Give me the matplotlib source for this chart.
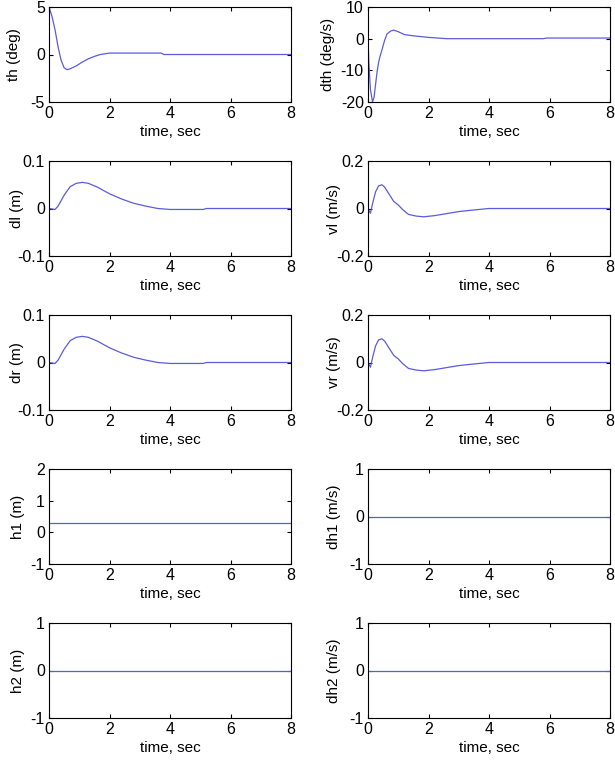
import matplotlib
matplotlib.use("Agg")
import matplotlib.pyplot as plt

plt.rcParams['font.family'] = ['Liberation Sans', 'DejaVu Sans']

# values
t_th = [0, 0.1, 0.2, 0.3, 0.4, 0.5, 0.6, 0.7, 0.9, 1.1, 1.3, 1.5, 1.7, 1.9, 2.0, 3.7, 3.8, 8]
th = [5, 4.0, 2.6, 0.8, -0.6, -1.4, -1.6, -1.5, -1.2, -0.8, -0.45, -0.2, 0.0, 0.1, 0.15, 0.15, 0.0, 0.0]

t_dth = [0, 0.03, 0.08, 0.15, 0.2, 0.25, 0.3, 0.35, 0.4, 0.46, 0.55, 0.63, 0.75, 0.85, 1.0, 1.2, 1.5, 2.0, 2.6, 5.8, 5.9, 8]
dth = [0, -8, -16, -20, -18.5, -14.5, -10.5, -7.5, -5.5, -3.6, -0.5, 1.5, 2.4, 2.7, 2.2, 1.3, 0.9, 0.4, 0.0, 0.0, 0.2, 0.2]

t_d = [0, 0.1, 0.2, 0.3, 0.5, 0.7, 0.9, 1.1, 1.3, 1.6, 2.0, 2.4, 2.8, 3.2, 3.6, 4.0, 5.1, 5.2, 8]
d = [0, -0.001, -0.002, 0.005, 0.028, 0.046, 0.053, 0.055, 0.053, 0.045, 0.031, 0.02, 0.011, 0.005, 0.0, -0.002, -0.002, 0.0, 0.0]

t_v = [0, 0.08, 0.15, 0.25, 0.35, 0.46, 0.55, 0.7, 0.85, 1.0, 1.15, 1.34, 1.6, 1.84, 2.2, 2.67, 3.0, 3.44, 4.0, 8]
v = [0, -0.02, 0.02, 0.07, 0.095, 0.1, 0.09, 0.06, 0.03, 0.015, -0.005, -0.025, -0.032, -0.035, -0.03, -0.02, -0.013, -0.007, 0.0, 0.0]

t_flat = [0, 8]
h1 = [0.3, 0.3]
dh1 = [0, 0]
h2 = [0, 0]
dh2 = [0, 0]

panels = [
    (t_th, th, "th (deg)", (-5, 5), [-5, 0, 5]),
    (t_dth, dth, "dth (deg/s)", (-20, 10), [-20, -10, 0, 10]),
    (t_d, d, "dl (m)", (-0.1, 0.1), [-0.1, 0, 0.1]),
    (t_v, v, "vl (m/s)", (-0.2, 0.2), [-0.2, 0, 0.2]),
    (t_d, d, "dr (m)", (-0.1, 0.1), [-0.1, 0, 0.1]),
    (t_v, v, "vr (m/s)", (-0.2, 0.2), [-0.2, 0, 0.2]),
    (t_flat, h1, "h1 (m)", (-1, 2), [-1, 0, 1, 2]),
    (t_flat, dh1, "dh1 (m/s)", (-1, 1), [-1, 0, 1]),
    (t_flat, h2, "h2 (m)", (-1, 1), [-1, 0, 1]),
    (t_flat, dh2, "dh2 (m/s)", (-1, 1), [-1, 0, 1]),
]

W, H = 615, 773
fig = plt.figure(figsize=(W / 100, H / 100), dpi=100)

col_left = [49, 368]
col_w = 242
row_top = [7, 161, 315, 469, 623]
row_h = 95
# y label centre, pixels from figure left
ylab_x = [[14, 328], [17, 334], [17, 334], [18, 334], [18, 334]]

for i, (t, y, label, ylim, yticks) in enumerate(panels):
    r, c = divmod(i, 2)
    ax = fig.add_axes([col_left[c] / W, 1 - (row_top[r] + row_h) / H, col_w / W, row_h / H])
    ax.plot(t, y, color='#5b5be0', lw=0.9)
    ax.set_xlim(0, 8)
    ax.set_ylim(*ylim)
    ax.set_xticks([0, 2, 4, 6, 8])
    ax.set_yticks(yticks)
    ax.set_yticklabels([f"{v:g}" for v in yticks])
    ax.tick_params(direction='in', top=True, right=True, length=3, labelsize=11.5, pad=3)
    ax.set_xlabel("time, sec", fontsize=11, labelpad=3)
    ax.set_ylabel(label, fontsize=11, va='center')
    ax.yaxis.set_label_coords((ylab_x[r][c] - col_left[c]) / col_w, 0.5)
    for s in ax.spines.values():
        s.set_linewidth(0.8)

fig.savefig("out.png", dpi=100)
